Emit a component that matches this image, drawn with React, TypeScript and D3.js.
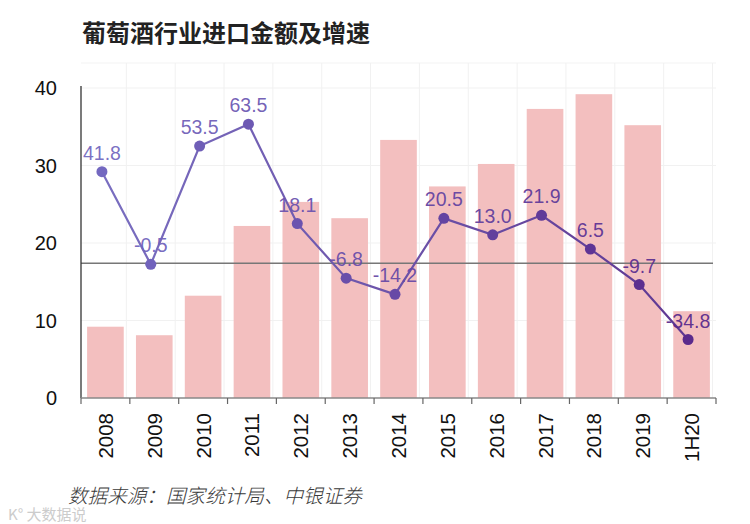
import React from "react";
import * as d3 from "d3";

const categories = ["2008", "2009", "2010", "2011", "2012", "2013", "2014", "2015", "2016", "2017", "2018", "2019", "1H20"];
const importValue = [9.2, 8.1, 13.2, 22.2, 25.3, 23.2, 33.3, 27.3, 30.2, 37.3, 39.2, 35.2, 11.2];
const growthRate = [41.8, -0.5, 53.5, 63.5, 18.1, -6.8, -14.2, 20.5, 13.0, 21.9, 6.5, -9.7, -34.8];
const growthLabels = ["41.8", "-0.5", "53.5", "63.5", "18.1", "-6.8", "-14.2", "20.5", "13.0", "21.9", "6.5", "-9.7", "-34.8"];
const yTicks = [0, 10, 20, 30, 40];

const W = 750;
const H = 524;
const left = 81;
const right = 716;
const top = 88;
const bottom = 398;

export default function App() {
  const x = d3.scaleBand<string>().domain(categories).range([left, right]).paddingInner(0.25).paddingOuter(0.125);
  const xGrid = d3.scaleBand<string>().domain(categories).range([left - 3.5, right - 3.5]);
  const y = d3.scaleLinear().domain([0, 40]).range([bottom, top]);
  const yRate = d3.scaleLinear().domain([-61.5, 80]).range([bottom, top]);
  const colorAt = d3.interpolateRgb("#7368c0", "#5a2a8c");
  const line = d3
    .line<number>()
    .x((_, i) => (xGrid(categories[i]) as number) + xGrid.bandwidth() / 2)
    .y((d) => yRate(d));
  const step = x.step();
  const font = "'Liberation Sans', Arial, sans-serif";

  return (
    <svg width={W} height={H} style={{ position: "absolute", left: 0, top: 0, background: "#fff" }}>
      <defs>
        <linearGradient id="lg" gradientUnits="userSpaceOnUse" x1={left} x2={right} y1={0} y2={0}>
          <stop offset="0%" stopColor="#7a70c2" />
          <stop offset="100%" stopColor="#5e3590" />
        </linearGradient>
      </defs>
      <text x={82} y={42} fontFamily="'Noto Sans CJK SC', sans-serif" fontWeight={700} fontSize={24} fill="#222">
        葡萄酒行业进口金额及增速
      </text>
      <line x1={left} x2={right} y1={63} y2={63} stroke="#f3f3f3" strokeWidth={1} />
      {yTicks.slice(1).map((t) => (
        <line key={"hg" + t} x1={left} x2={right} y1={y(t)} y2={y(t)} stroke="#f1f1f1" strokeWidth={1} />
      ))}
      {categories.map((c) => (
        <line key={"vg" + c} x1={(xGrid(c) as number) + xGrid.step()} x2={(xGrid(c) as number) + xGrid.step()} y1={63} y2={bottom} stroke="#f1f1f1" strokeWidth={1} />
      ))}
      {categories.map((c, i) => (
        <rect key={"b" + c} x={x(c)} y={y(importValue[i])} width={x.bandwidth()} height={bottom - y(importValue[i])} fill="#f3bfbf" />
      ))}
      <line x1={left} x2={713} y1={yRate(0)} y2={yRate(0)} stroke="#777" strokeWidth={1.3} />
      <line x1={left} x2={left} y1={86} y2={bottom} stroke="#333" strokeWidth={1.3} />
      <line x1={left} x2={right} y1={bottom} y2={bottom} stroke="#888" strokeWidth={1.3} />
      {d3.range(categories.length + 1).map((i) => (
        <line key={"t" + i} x1={left + i * step} x2={left + i * step} y1={bottom} y2={bottom + 6} stroke="#666" strokeWidth={1.2} />
      ))}
      {yTicks.map((t) => (
        <text key={"yl" + t} x={57} y={y(t)} textAnchor="end" dominantBaseline="central" fontFamily={font} fontSize={20} fill="#111">
          {t}
        </text>
      ))}
      {categories.map((c) => (
        <text
          key={"xl" + c}
          transform={`translate(${(x(c) as number) + x.bandwidth() / 2},413) rotate(-90)`}
          textAnchor="end"
          dominantBaseline="central"
          fontFamily={font}
          fontSize={20.5}
          fill="#111"
        >
          {c}
        </text>
      ))}
      <path d={line(growthRate) as string} fill="none" stroke="url(#lg)" strokeWidth={2.2} />
      {growthRate.map((v, i) => {
        const cx = (xGrid(categories[i]) as number) + xGrid.bandwidth() / 2;
        const col = colorAt(i / (categories.length - 1));
        return (
          <g key={"p" + i}>
            <circle cx={cx} cy={yRate(v)} r={5.5} fill={col} />
            <text x={cx} y={yRate(v) - 12} textAnchor="middle" fontFamily={font} fontSize={19.5} fill={col} fillOpacity={0.95}>
              {growthLabels[i]}
            </text>
          </g>
        );
      })}
      <text x={68} y={503} fontFamily="'Noto Sans CJK SC', sans-serif" fontStyle="italic" fontWeight={300} fontSize={19.6} fill="#3a3a3a">
        数据来源：国家统计局、中银证券
      </text>
      <text x={8} y={520} fontFamily="'Noto Sans CJK SC', sans-serif" fontSize={15} fill="#ccc">
        K° 大数据说
      </text>
    </svg>
  );
}
